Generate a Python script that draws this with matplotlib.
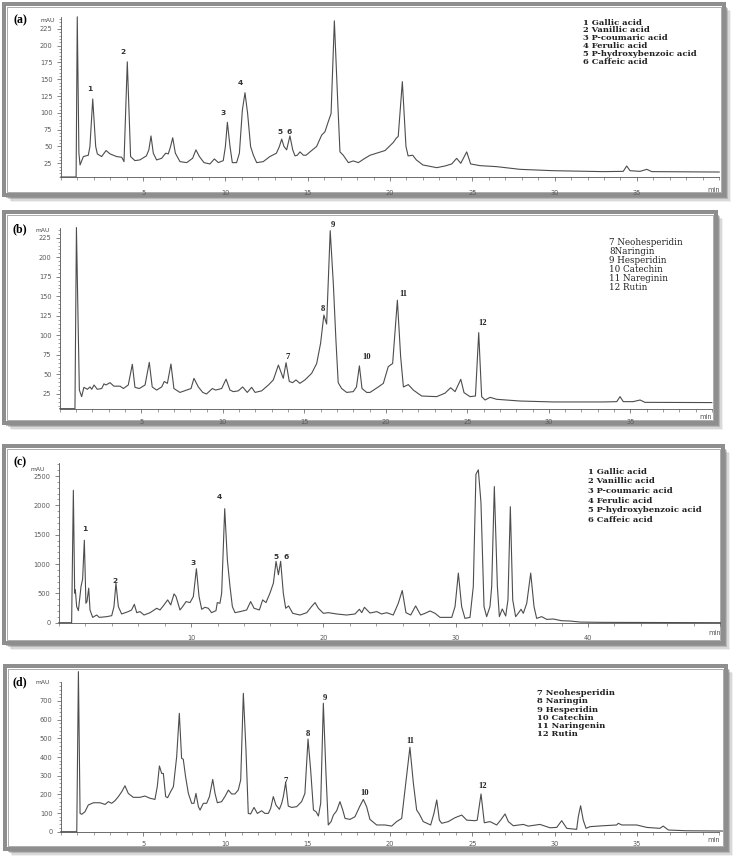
import matplotlib
matplotlib.use("Agg")
import matplotlib.pyplot as plt
from matplotlib.patches import Rectangle
from matplotlib.ticker import MultipleLocator

W, H = 738, 861

# ---------------- data: (retention time [min], absorbance [mAU]) ----------------
trace_a = [(0, 4.6), (0.93, 4.6), (1.0, 243), (1.1, 40), (1.17, 22.5), (1.37, 35), (1.67, 37), (1.77, 50),
           (1.94, 120.7), (2.12, 50), (2.22, 39), (2.48, 35), (2.75, 44), (2.99, 39), (3.39, 35), (3.70, 34),
           (3.84, 27.5), (4.04, 176), (4.24, 35), (4.5, 29), (4.8, 30), (5.2, 36), (5.35, 45), (5.48, 65.7),
           (5.62, 40), (5.82, 30), (6.13, 32.5), (6.37, 40), (6.53, 39), (6.67, 50), (6.80, 63), (6.96, 40),
           (7.24, 27.5), (7.65, 26), (8.01, 32.5), (8.21, 45), (8.42, 35), (8.7, 26), (9.06, 24), (9.33, 31.5),
           (9.57, 26), (9.87, 29), (10.0, 50), (10.12, 86), (10.28, 50), (10.42, 26), (10.68, 26), (10.85, 40),
           (11.03, 104), (11.19, 130), (11.35, 99), (11.53, 50), (11.70, 37), (11.9, 26), (12.3, 27.5),
           (12.7, 35), (13.1, 40), (13.28, 50), (13.42, 61), (13.56, 50), (13.72, 45), (13.92, 65.7),
           (14.09, 45), (14.23, 36), (14.37, 37), (14.53, 42), (14.74, 37), (14.9, 37), (15.14, 42),
           (15.54, 50), (15.85, 67), (16.05, 72), (16.25, 87), (16.42, 99), (16.62, 237), (16.82, 119),
           (16.96, 42), (17.16, 37), (17.47, 26), (17.77, 28.5), (18.08, 26), (18.48, 32.5), (18.79, 37),
           (19.7, 44), (20.2, 56), (20.37, 62), (20.5, 65), (20.75, 146.5), (20.97, 50), (21.1, 36),
           (21.38, 37), (21.6, 30), (22.0, 22.5), (22.84, 18.5), (23.34, 21), (23.75, 24), (24.05, 32.4),
           (24.3, 25), (24.66, 42), (24.9, 24), (25.47, 21.5), (26.48, 20), (27.9, 16), (29.9, 14),
           (32.96, 12.6), (34.17, 13), (34.38, 21), (34.58, 14), (35.19, 13), (35.6, 16), (35.9, 12.6), (40, 12)]

trace_b = [(0, 6.2), (0.93, 6.2), (1.02, 238), (1.12, 120), (1.2, 30), (1.34, 21.6), (1.48, 33.5), (1.69, 31),
           (1.85, 34), (1.96, 31), (2.1, 36.5), (2.3, 31), (2.57, 32), (2.71, 38), (2.83, 36.5), (3.08, 39.5),
           (3.32, 35), (3.7, 35), (3.9, 32), (4.2, 36.5), (4.45, 63), (4.61, 33.5), (4.88, 32), (5.23, 36.5),
           (5.49, 65.5), (5.67, 34), (5.94, 30), (6.25, 34), (6.41, 41), (6.6, 38.6), (6.82, 63.4), (7.0, 32),
           (7.37, 27), (7.78, 30), (8.05, 32), (8.23, 45), (8.5, 34), (8.77, 27), (9.0, 25), (9.36, 32),
           (9.56, 30), (9.93, 32), (10.2, 44), (10.44, 30), (10.65, 28), (10.95, 29), (11.22, 34), (11.5, 27),
           (11.77, 33.5), (11.98, 27), (12.38, 29), (12.8, 36.5), (13.1, 43), (13.41, 62), (13.71, 45),
           (13.88, 65), (14.08, 41), (14.28, 39.5), (14.49, 43), (14.73, 38.6), (15.04, 43), (15.45, 51.4),
           (15.76, 64), (16.0, 90), (16.2, 126), (16.37, 114.5), (16.59, 234), (16.78, 166.6), (16.94, 94),
           (17.08, 39.5), (17.29, 32), (17.6, 27), (18.0, 28), (18.2, 34), (18.38, 61), (18.54, 32),
           (18.83, 27), (19.03, 27), (19.54, 34), (19.85, 38.6), (20.15, 60), (20.42, 64), (20.71, 145),
           (20.91, 73), (21.08, 34), (21.38, 37), (21.69, 30), (22.2, 22.4), (23.12, 21.6), (23.63, 26),
           (23.98, 33), (24.25, 28), (24.6, 43.8), (24.8, 26.7), (25.17, 21.6), (25.5, 22.4), (25.7, 103.5),
           (25.88, 21.6), (26.09, 17.3), (26.4, 20.7), (26.8, 18.2), (28.23, 16), (30.28, 14.8),
           (33.34, 14.8), (34.17, 15.2), (34.37, 21.6), (34.57, 15.2), (35.18, 15.2), (35.6, 17.3),
           (35.9, 14.3), (40, 14)]

trace_c = [(0, 0), (0.97, 0), (1.1, 2257), (1.2, 503), (1.25, 560), (1.35, 274), (1.48, 206), (1.68, 617),
           (1.8, 743), (1.93, 1406), (2.05, 331), (2.13, 360), (2.26, 589), (2.36, 217), (2.56, 91),
           (2.86, 131), (3.06, 91), (3.62, 103), (4.0, 120), (4.17, 274), (4.32, 674), (4.5, 274), (4.75, 149),
           (5.25, 189), (5.5, 217), (5.71, 314), (5.89, 171), (6.14, 189), (6.44, 131), (6.9, 171), (7.4, 246),
           (7.65, 217), (7.95, 303), (8.23, 389), (8.46, 303), (8.71, 491), (8.86, 446), (9.16, 217),
           (9.36, 274), (9.62, 360), (9.92, 343), (10.17, 446), (10.4, 920), (10.6, 446), (10.8, 229),
           (11.05, 263), (11.3, 246), (11.55, 171), (11.88, 206), (11.98, 343), (12.18, 331), (12.31, 503),
           (12.54, 1943), (12.74, 1074), (12.94, 617), (13.12, 274), (13.32, 171), (13.7, 189), (14.2, 217),
           (14.5, 360), (14.76, 246), (15.16, 217), (15.41, 389), (15.66, 343), (15.96, 503), (16.22, 674),
           (16.42, 1046), (16.6, 817), (16.77, 1046), (16.97, 503), (17.15, 246), (17.37, 286), (17.68, 160),
           (18.23, 131), (18.74, 171), (19.1, 274), (19.37, 343), (19.62, 246), (20.0, 160), (20.37, 171),
           (21.0, 149), (21.75, 131), (22.39, 149), (22.72, 229), (22.9, 171), (23.1, 263), (23.52, 165),
           (24.03, 189), (24.4, 149), (24.78, 171), (25.28, 131), (25.66, 331), (25.96, 549), (26.24, 171),
           (26.6, 131), (26.97, 286), (27.35, 131), (27.68, 160), (28.06, 200), (28.44, 160), (28.81, 91),
           (29.7, 91), (29.95, 274), (30.2, 846), (30.45, 274), (30.7, 74), (31.08, 91), (31.33, 617),
           (31.53, 2531), (31.71, 2606), (31.91, 2046), (32.14, 274), (32.34, 103), (32.59, 274), (32.72, 617),
           (32.92, 2320), (33.15, 617), (33.3, 103), (33.52, 234), (33.78, 114), (33.95, 389), (34.13, 1977),
           (34.31, 389), (34.53, 103), (34.76, 171), (34.94, 229), (35.11, 160), (35.37, 331), (35.67, 846),
           (35.92, 274), (36.12, 74), (36.5, 103), (36.88, 57), (37.38, 63), (38.0, 34), (38.64, 29),
           (39.4, 11), (41.1, 6), (50, 0)]

trace_d = [(0, 0), (0.97, 0), (1.07, 857), (1.17, 98), (1.27, 93), (1.47, 107), (1.67, 143), (1.98, 155),
           (2.38, 155), (2.69, 146), (2.89, 161), (3.09, 152), (3.29, 166), (3.5, 188), (3.7, 214), (3.9, 246),
           (4.1, 205), (4.4, 184), (4.81, 184), (5.11, 191), (5.42, 179), (5.72, 173), (5.86, 241), (5.99, 352),
           (6.13, 312), (6.23, 312), (6.37, 188), (6.49, 182), (6.67, 214), (6.84, 241), (7.04, 402),
           (7.2, 634), (7.34, 393), (7.44, 388), (7.58, 295), (7.75, 205), (7.95, 152), (8.09, 152),
           (8.21, 205), (8.36, 134), (8.46, 116), (8.66, 152), (8.86, 152), (9.03, 188), (9.23, 280),
           (9.37, 205), (9.51, 155), (9.77, 161), (9.97, 188), (10.18, 223), (10.38, 202), (10.58, 202),
           (10.78, 223), (10.93, 277), (11.09, 741), (11.25, 438), (11.39, 98), (11.53, 95), (11.74, 130),
           (11.94, 98), (12.2, 112), (12.4, 98), (12.61, 98), (12.75, 125), (12.91, 188), (13.07, 143),
           (13.28, 120), (13.42, 152), (13.52, 188), (13.66, 263), (13.82, 137), (14.02, 130), (14.33, 134),
           (14.63, 161), (14.83, 205), (15.02, 496), (15.18, 330), (15.35, 116), (15.51, 107), (15.65, 84),
           (15.79, 152), (15.95, 688), (16.11, 312), (16.25, 36), (16.42, 54), (16.56, 89), (16.76, 112),
           (16.96, 161), (17.13, 116), (17.27, 71), (17.57, 66), (17.87, 80), (18.17, 137), (18.38, 173),
           (18.58, 134), (18.78, 66), (19.19, 36), (19.7, 36), (20.1, 30), (20.4, 54), (20.71, 71),
           (20.91, 223), (21.21, 452), (21.42, 259), (21.62, 116), (21.78, 95), (22.02, 54), (22.47, 36),
           (22.67, 98), (22.84, 170), (23.0, 62), (23.14, 45), (23.54, 54), (23.95, 75), (24.36, 89),
           (24.66, 62), (25.16, 59), (25.3, 62), (25.53, 202), (25.73, 48), (26.08, 54), (26.48, 36),
           (26.72, 62), (26.99, 95), (27.19, 54), (27.49, 32), (28.1, 39), (28.4, 30), (29.11, 39),
           (29.72, 21), (30.13, 23), (30.43, 59), (30.74, 18), (31.34, 12.5), (31.44, 80), (31.58, 139),
           (31.74, 62), (31.91, 18), (32.15, 27), (32.96, 32), (33.77, 36), (33.87, 45), (34.08, 36),
           (34.99, 36), (35.6, 23), (36.4, 18), (36.6, 30), (36.91, 9), (38.02, 5), (40.2, 3.6)]

acids = ["1 Gallic acid", "2 Vanillic acid", "3 P-coumaric acid", "4 Ferulic acid",
         "5 P-hydroxybenzoic acid", "6 Caffeic acid"]
flav_b = ["7 Neohesperidin", "8Naringin", "9 Hesperidin", "10 Catechin", "11 Nareginin", "12 Rutin"]
flav_d = ["7 Neohesperidin", "8 Naringin", "9 Hesperidin", "10 Catechin", "11 Naringenin", "12 Rutin"]

yticks_a = [25, 50, 75, 100, 125, 150, 175, 200, 225]
yticks_c = [0, 500, 1000, 1500, 2000, 2500]
yticks_d = [0, 100, 200, 300, 400, 500, 600, 700]

# ---------------- figure ----------------
fig = plt.figure(figsize=(W / 100, H / 100), dpi=100)
PX = 0.72  # points per pixel


def fx(x):
    return x / W


def fy(y):
    return 1 - y / H


def frame(x0, y0, x1, y1):
    # soft drop shadow
    for i, (off, a) in enumerate([(7, 0.10), (5.5, 0.18), (4, 0.30), (2.5, 0.45)]):
        fig.patches.append(Rectangle((fx(x0 + off), fy(y1 + off)), (x1 - x0) / W, (y1 - y0) / H,
                                     transform=fig.transFigure, facecolor="#6e6e6e", edgecolor="none",
                                     alpha=a, zorder=-20 + i))
    fig.patches.append(Rectangle((fx(x0), fy(y1)), (x1 - x0) / W, (y1 - y0) / H,
                                 transform=fig.transFigure, facecolor="white", edgecolor="#8e8e8e",
                                 linewidth=4 * PX, zorder=-10))
    fig.patches.append(Rectangle((fx(x0 + 3), fy(y1 - 3)), (x1 - x0 - 6) / W, (y1 - y0 - 6) / H,
                                 transform=fig.transFigure, facecolor="none", edgecolor="#7a7a7a",
                                 linewidth=0.6 * PX, zorder=-9))


def panel(box, xlim, ylim, trace, yticks, xmaj, xmin, ymin, sans_pad, min_y):
    x0, y0, x1, y1 = box
    ax = fig.add_axes([fx(x0), fy(y1), (x1 - x0) / W, (y1 - y0) / H])
    ax.set_facecolor("none")
    t = [p[0] for p in trace]
    v = [p[1] for p in trace]
    ax.plot(t, v, color="#4d4d4d", lw=0.8, clip_on=False, solid_joinstyle="round")
    ax.set_xlim(*xlim)
    ax.set_ylim(*ylim)
    for s in ["top", "right"]:
        ax.spines[s].set_visible(False)
    for s in ["left", "bottom"]:
        ax.spines[s].set_color("#555555")
        ax.spines[s].set_linewidth(0.6)
    ax.set_yticks(yticks)
    ax.set_yticklabels([str(k) for k in yticks])
    ax.xaxis.set_major_locator(MultipleLocator(xmaj))
    ax.xaxis.set_minor_locator(MultipleLocator(xmin))
    ax.yaxis.set_minor_locator(MultipleLocator(ymin))
    ax.tick_params(which="major", length=3, width=0.5, color="#555555", labelsize=4.8,
                   labelcolor="#5a5a5a")
    ax.tick_params(which="minor", length=1.8, width=0.4, color="#555555")
    ax.tick_params(axis="y", pad=3)
    ax.tick_params(axis="x", pad=sans_pad)
    ax.set_xticks([k for k in ax.get_xticks() if xlim[0] < k < xlim[1]])
    ax.set_xticklabels([str(int(k)) for k in ax.get_xticks()])
    fig.text(fx(x1 - 6), fy(min_y), "min", fontsize=4.8, color="#555555", ha="center", va="center")
    return ax


def T(x, y, s, **kw):
    fig.text(fx(x), fy(y), s, **kw)


serif = "Liberation Serif"
wide_serif = "DejaVu Serif"

# ---------- frames ----------
frame(4, 4, 724, 195)
frame(4, 212, 716, 423)
frame(4, 446, 723, 643)
frame(5, 666, 726, 849)

# ---------- (a) ----------
panel((60.8, 17, 719.2, 177), (0, 40), (4.6, 242.7), trace_a, yticks_a, 5, 1, 5, 6.5, 190)
T(20, 20.5, "(a)", fontsize=8.5, fontweight="bold", family=serif, ha="center", va="center")
T(48, 20, "mAU", fontsize=4.3, color="#444444", ha="center", va="center")
for lab, (x, y) in zip(["1", "2", "3", "4", "5", "6"],
                       [(90, 89), (123, 52), (223, 113), (240, 83), (280, 132), (289, 132)]):
    T(x, y, lab, fontsize=5.4, fontweight="bold", color="#333333", ha="center", va="center")
for i, s in enumerate(acids):
    T(583, 22.7 + 7.8 * i, s, fontsize=6.0, fontweight="bold", family=wide_serif, ha="left", va="center",
      color="#222222")

# ---------- (b) ----------
panel((59.8, 227.7, 711.8, 409.3), (0, 40), (5.4, 237.8), trace_b, yticks_a, 5, 1, 5, 4, 417)
T(20, 229, "(b)", fontsize=8.5, fontweight="bold", family=serif, ha="center", va="center")
T(43, 230, "mAU", fontsize=4.3, color="#444444", ha="center", va="center")
for lab, (x, y) in zip(["7", "8", "9", "10", "11", "12"],
                       [(288, 357.3), (323, 309.3), (333, 225), (367, 357), (403, 294.3), (483, 322.7)]):
    T(x, y, lab, fontsize=6.2, fontweight="bold", family=serif, color="#222222", ha="center", va="center")
for i, s in enumerate(flav_b):
    T(609, 242.3 + 9.0 * i, s, fontsize=6.3, family=wide_serif, ha="left", va="center", color="#222222")

# ---------- (c) ----------
panel((58.8, 463.3, 720.3, 623), (0, 50), (-5, 2717), trace_c, yticks_c, 10, 2, 100, 5.5, 633)
T(20, 462.3, "(c)", fontsize=8.5, fontweight="bold", family=serif, ha="center", va="center")
T(38, 470, "mAU", fontsize=4.3, color="#444444", ha="center", va="center")
for lab, (x, y) in zip(["1", "2", "3", "4", "5", "6"],
                       [(85, 529.3), (115, 581), (193, 562.7), (219, 496.7), (276, 556.7), (285.7, 556.7)]):
    T(x, y, lab, fontsize=5.4, fontweight="bold", color="#333333", ha="center", va="center")
for i, s in enumerate(acids):
    T(588, 471.7 + 9.7 * i, s, fontsize=6.0, fontweight="bold", family=wide_serif, ha="left", va="center",
      color="#222222")

# ---------- (d) ----------
panel((60.8, 682.3, 719.2, 831.7), (0, 40), (0, 800), trace_d, yticks_d, 5, 1, 20, 4, 840)
T(20, 682.3, "(d)", fontsize=8.5, fontweight="bold", family=serif, ha="center", va="center")
T(43, 682.7, "mAU", fontsize=4.3, color="#444444", ha="center", va="center")
for lab, (x, y) in zip(["7", "8", "9", "10", "11", "12"],
                       [(286, 780.7), (307.7, 734), (325, 698.3), (365, 792.7), (410.7, 740.7), (482.7, 785.7)]):
    T(x, y, lab, fontsize=6.2, fontweight="bold", family=serif, color="#222222", ha="center", va="center")
for i, s in enumerate(flav_d):
    T(536.7, 693.3 + 8.1 * i, s, fontsize=6.0, fontweight="bold", family=wide_serif, ha="left", va="center",
      color="#222222")

fig.savefig("out.png", dpi=100)
